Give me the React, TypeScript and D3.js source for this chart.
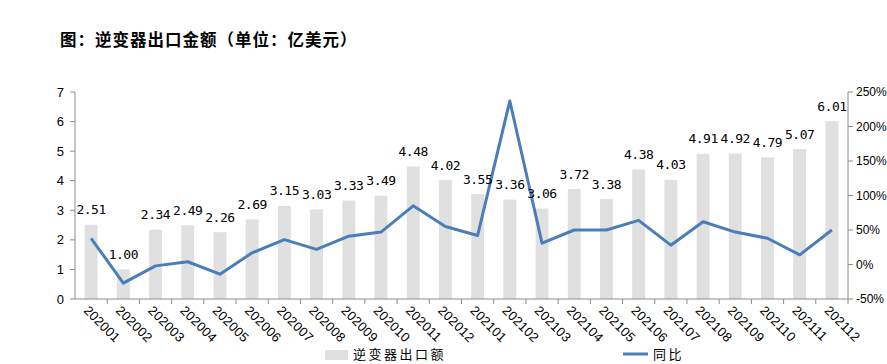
import React from "react";
import * as d3 from "d3";

const categories = ["202001","202002","202003","202004","202005","202006","202007","202008","202009","202010","202011","202012","202101","202102","202103","202104","202105","202106","202107","202108","202109","202110","202111","202112"];
const exportValues = [2.51,1.0,2.34,2.49,2.26,2.69,3.15,3.03,3.33,3.49,4.48,4.02,3.55,3.36,3.06,3.72,3.38,4.38,4.03,4.91,4.92,4.79,5.07,6.01];
const yoyValues = [38,-27,-2,4,-14,17,36,22,41,47,85,55,42,237,31,50,50,64,28,62,47,38,14,50];
const leftTicks = [0,1,2,3,4,5,6,7];
const rightTicks = [-50,0,50,100,150,200,250];

const W = 887, H = 364;
const left = 75, right = 848, top = 92, bottom = 299;

export default function App() {
  const x = d3.scaleBand<string>().domain(categories).range([left, right]).paddingInner(0.6).paddingOuter(0.3);
  const xb = d3.scaleBand<string>().domain(categories).range([left, right]);
  const y = d3.scaleLinear().domain([0, 7]).range([bottom, top]);
  const y2 = d3.scaleLinear().domain([-50, 250]).range([bottom, top]);
  const line = d3.line<number>().x((_, i) => (xb(categories[i]) as number) + xb.bandwidth() / 2).y(d => y2(d));
  const axisColor = "#8c8c8c";
  const font = "'Liberation Sans', Arial, sans-serif";
  return (
    <svg width={W} height={H} style={{ position: "absolute", left: 0, top: 0, background: "#fff" }}>
      <text x={60} y={46} fontFamily="'Noto Sans CJK SC', sans-serif" fontWeight="bold" fontSize={16.5} letterSpacing={1} fill="#000">图：逆变器出口金额（单位：亿美元）</text>
      {categories.map((c, i) => (
        <rect key={c} x={x(c)} y={y(exportValues[i])} width={x.bandwidth()} height={bottom - y(exportValues[i])} fill="#e0e0e0" />
      ))}
      {/* left axis */}
      <line x1={left} x2={left} y1={top} y2={bottom} stroke={axisColor} />
      {leftTicks.map(t => (
        <g key={t}>
          <line x1={left - 5} x2={left} y1={y(t)} y2={y(t)} stroke={axisColor} />
          <text x={64} y={y(t)} dy="0.35em" textAnchor="end" fontFamily={font} fontSize={13} fill="#000">{t}</text>
        </g>
      ))}
      {/* right axis */}
      <line x1={right} x2={right} y1={top} y2={bottom} stroke={axisColor} />
      {rightTicks.map(t => (
        <g key={t}>
          <line x1={right} x2={right + 5} y1={y2(t)} y2={y2(t)} stroke={axisColor} />
          <text x={856} y={y2(t)} dy="0.35em" textAnchor="start" fontFamily={font} fontSize={12} fill="#000">{t}%</text>
        </g>
      ))}
      {/* bottom axis */}
      <line x1={left} x2={right} y1={bottom} y2={bottom} stroke={axisColor} />
      {categories.map((c) => (
        <line key={c} x1={(xb(c) as number) + xb.bandwidth()} x2={(xb(c) as number) + xb.bandwidth()} y1={bottom} y2={bottom + 5} stroke={axisColor} />
      ))}
      {categories.map(c => {
        const cx = (xb(c) as number) + xb.bandwidth() / 2 - 5;
        const cy = 308;
        return (
          <text key={c} x={cx} y={cy} transform={`rotate(45 ${cx} ${cy})`} dy="0.35em" fontFamily={font} fontSize={13} letterSpacing={0.3} fill="#000">{c}</text>
        );
      })}
      <path d={line(yoyValues) || ""} fill="none" stroke="#4a7ebb" strokeWidth={3} strokeLinejoin="round" />
      {categories.map((c, i) => (
        <text key={c} x={(xb(c) as number) + xb.bandwidth() / 2} y={y(exportValues[i]) - 15} dy="0.35em" textAnchor="middle" fontFamily="'DejaVu Sans Mono', monospace" fontSize={13} letterSpacing={-0.5} fill="#000">{exportValues[i].toFixed(2)}</text>
      ))}
      {/* legend */}
      <rect x={325} y={350} width={23} height={10} fill="#e0e0e0" />
      <text x={353} y={359} fontFamily="'Noto Sans CJK SC', sans-serif" fontSize={13} letterSpacing={2.5} fill="#000">逆变器出口额</text>
      <line x1={623} x2={648} y1={354} y2={354} stroke="#4a7ebb" strokeWidth={3} />
      <text x={653} y={359} fontFamily="'Noto Sans CJK SC', sans-serif" fontSize={13} letterSpacing={2.5} fill="#000">同比</text>
    </svg>
  );
}
